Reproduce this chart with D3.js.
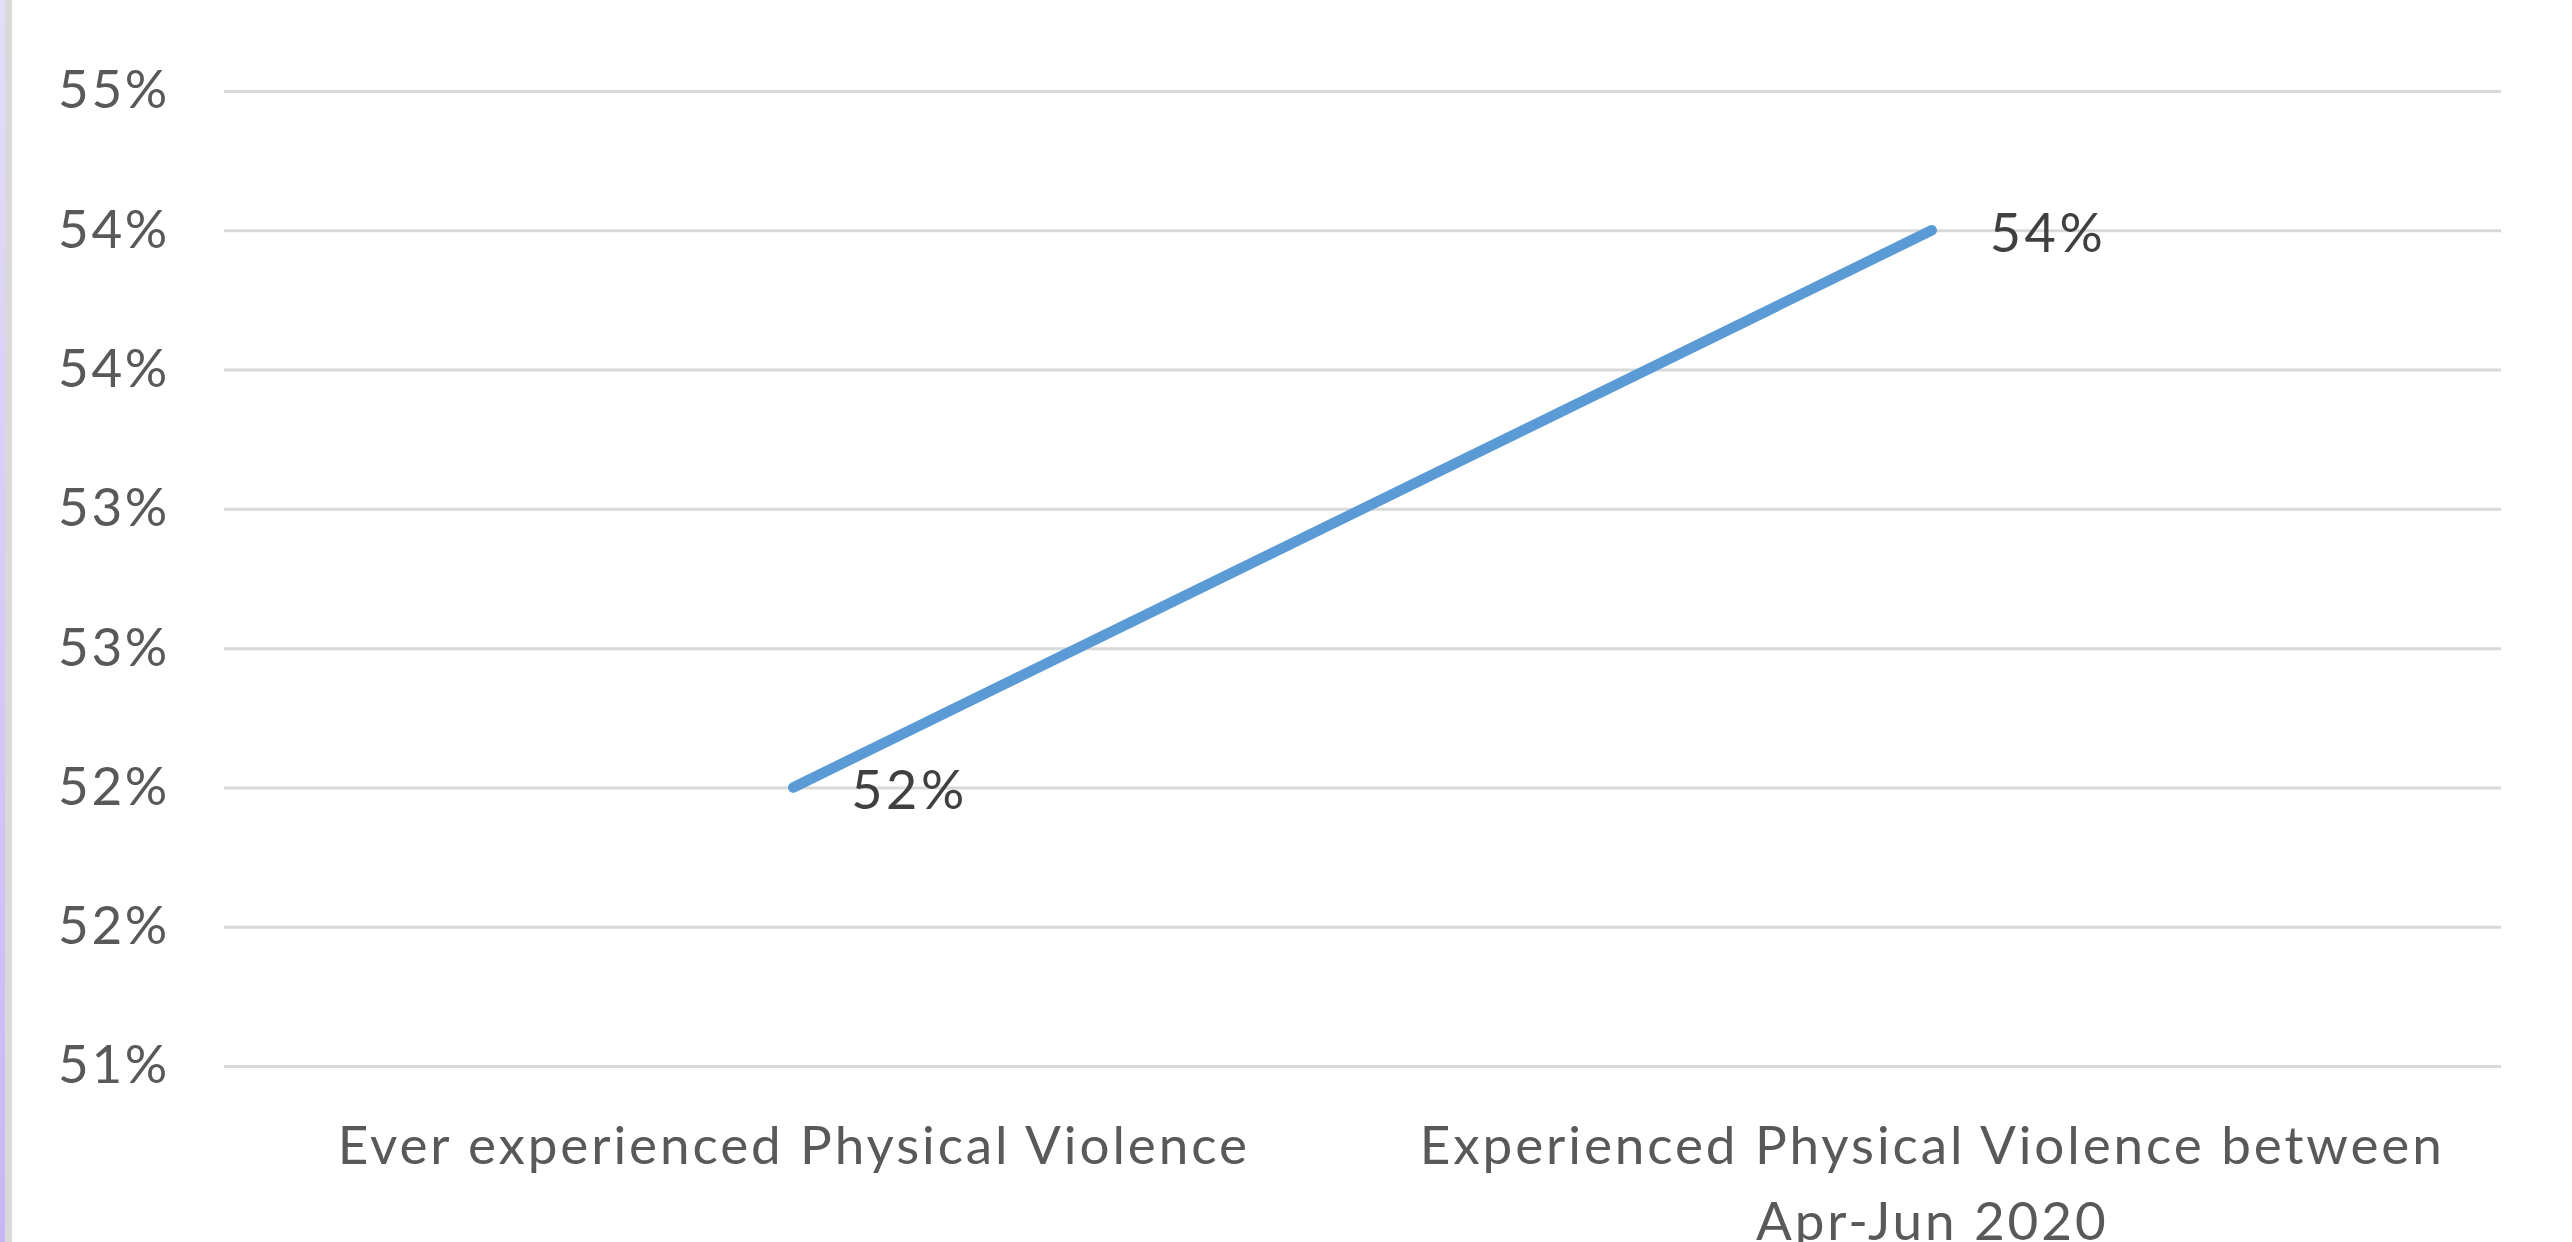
<!DOCTYPE html>
<html>
<head>
<meta charset="utf-8">
<script src="https://cdn.jsdelivr.net/npm/d3@7"></script>
<style>
  html, body { margin: 0; padding: 0; background: #fff; overflow: hidden; }
  svg { display: block; }
  text { font-family: Lato, "Open Sans", sans-serif; }
</style>
</head>
<body>
<svg id="chart" width="2572" height="1242"></svg>
<script>
// data
const categories = ["Ever experienced Physical Violence", "Experienced Physical Violence between Apr-Jun 2020"];
const values = [52, 54];
const yTicks = [51, 51.5, 52, 52.5, 53, 53.5, 54, 54.5];

const svg = d3.select("#chart"),
  W = +svg.attr("width"), H = +svg.attr("height"),
  margin = {top: 91, right: 71, bottom: 176, left: 224},
  width = W - margin.left - margin.right,
  height = H - margin.top - margin.bottom;

// left border strip
const defs = svg.append("defs");
const grad = defs.append("linearGradient").attr("id", "strip").attr("x1", 0).attr("y1", 0).attr("x2", 0).attr("y2", 1);
grad.append("stop").attr("offset", "0%").attr("stop-color", "#e4ddfb");
grad.append("stop").attr("offset", "100%").attr("stop-color", "#c8b6f4");
svg.append("rect").attr("x", 0).attr("y", 0).attr("width", 5).attr("height", H).attr("fill", "url(#strip)");
svg.append("rect").attr("x", 5).attr("y", 0).attr("width", 7).attr("height", H).attr("fill", "#d9d9d9");

const x = d3.scalePoint().domain(categories).range([0, width]).padding(0.5);
const y = d3.scaleLinear().domain([51, 54.5]).range([height, 0]);

const g = svg.append("g").attr("transform", `translate(${margin.left},${margin.top})`);

// y axis with gridlines
const yAxis = g.append("g")
  .call(d3.axisLeft(y).tickValues(yTicks).tickSize(-width).tickPadding(54)
    .tickFormat(d => Math.round(d) + "%"));
yAxis.select(".domain").remove();
yAxis.selectAll(".tick line").attr("stroke", "#d9d9d9").attr("stroke-width", 3);
yAxis.selectAll(".tick text").attr("fill", "#595959").style("font-size", "53px")
  .style("letter-spacing", "2.7px");

// x axis labels, wrapped
const xAxis = g.append("g")
  .attr("transform", `translate(0,${height})`)
  .call(d3.axisBottom(x).tickSize(0).tickPadding(0));
xAxis.select(".domain").remove();
xAxis.selectAll(".tick text")
  .attr("fill", "#595959").style("font-size", "53px")
  .style("letter-spacing", "2.9px")
  .attr("y", 0).attr("dy", null)
  .each(function(d) {
    const t = d3.select(this), words = d.split(" ");
    t.text(null);
    let lines = [], line = [];
    const probe = t.append("tspan");
    words.forEach(w => {
      line.push(w);
      probe.text(line.join(" "));
      if (probe.node().getComputedTextLength() > 1100 && line.length > 1) {
        line.pop(); lines.push(line.join(" ")); line = [w];
      }
    });
    lines.push(line.join(" "));
    probe.remove();
    lines.forEach((l, i) => {
      t.append("tspan").attr("x", 0).attr("y", 79 + i * 76).attr("dy", "0.35em").text(l);
    });
  });

// line
const line = d3.line().x((d, i) => x(categories[i])).y(d => y(d));
g.append("path")
  .datum(values)
  .attr("fill", "none")
  .attr("stroke", "#5b9bd5")
  .attr("stroke-width", 10.5)
  .attr("stroke-linecap", "round")
  .attr("d", line);

// data labels
g.selectAll(".lbl")
  .data(values)
  .enter().append("text")
  .attr("class", "lbl")
  .attr("x", (d, i) => x(categories[i]) + 58)
  .attr("y", d => y(d) + 3)
  .attr("dy", "0.35em")
  .attr("fill", "#404040")
  .style("font-size", "54px")
  .style("letter-spacing", "3.5px")
  .text(d => d + "%");
</script>
</body>
</html>
